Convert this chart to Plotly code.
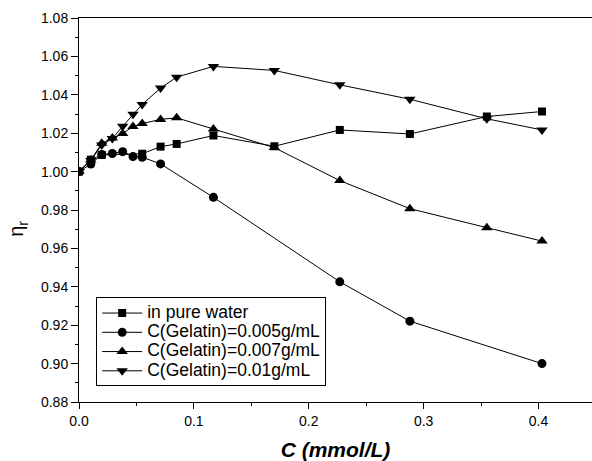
import plotly.graph_objects as go

# Concentration C (mmol/L) and relative viscosity values
c_water = [0.0, 0.0103, 0.0198, 0.055, 0.071, 0.085, 0.117, 0.170, 0.227, 0.288, 0.355, 0.403]
eta_water = [1.000, 1.0062, 1.0087, 1.0093, 1.0130, 1.0144, 1.0188, 1.0132, 1.0217, 1.0196, 1.0287, 1.0313]

c_g005 = [0.0, 0.0103, 0.0198, 0.029, 0.038, 0.047, 0.055, 0.071, 0.117, 0.227, 0.288, 0.403]
eta_g005 = [1.000, 1.0039, 1.0089, 1.0094, 1.0104, 1.0078, 1.0075, 1.0040, 0.9866, 0.9426, 0.9221, 0.9000]

c_g007 = [0.0, 0.0103, 0.0198, 0.029, 0.038, 0.047, 0.055, 0.071, 0.085, 0.117, 0.170, 0.227, 0.288, 0.355, 0.403]
eta_g007 = [1.000, 1.0060, 1.0148, 1.0175, 1.0198, 1.0235, 1.0250, 1.0272, 1.0280, 1.0222, 1.0125, 0.9953, 0.9807, 0.9708, 0.9638]

c_g01 = [0.0, 0.0103, 0.0198, 0.029, 0.038, 0.047, 0.055, 0.071, 0.085, 0.117, 0.170, 0.227, 0.288, 0.355, 0.403]
eta_g01 = [1.000, 1.0058, 1.0139, 1.0172, 1.0236, 1.0299, 1.0350, 1.0435, 1.0492, 1.0548, 1.0527, 1.0452, 1.0377, 1.0275, 1.0217]

series_names = ["in pure water", "C(Gelatin)=0.005g/mL", "C(Gelatin)=0.007g/mL", "C(Gelatin)=0.01g/mL"]
x_tickvals = [0.0, 0.1, 0.2, 0.3, 0.4]
x_ticktext = ["0.0", "0.1", "0.2", "0.3", "0.4"]
y_tickvals = [0.88, 0.90, 0.92, 0.94, 0.96, 0.98, 1.00, 1.02, 1.04, 1.06, 1.08]

W, H = 592, 461
L, R, T, B = 78.5, 0, 18.3, 59.3
FONT = "Liberation Sans, Arial, sans-serif"

fig = go.Figure()
data = [(c_water, eta_water, "square", 8),
        (c_g005, eta_g005, "circle", 9),
        (c_g007, eta_g007, "triangle-up", 10),
        (c_g01, eta_g01, "triangle-down", 10)]
for (cx, cy, sym, sz), name in zip(data, series_names):
    fig.add_trace(go.Scatter(
        x=cx, y=cy, mode="lines+markers",
        name='<span style="font-size:17.5px">' + name + '</span>',
        line=dict(color="black", width=1),
        marker=dict(symbol=sym, size=sz, color="black"),
    ))

axis_font = dict(family=FONT, size=14, color="black")
fig.update_layout(
    width=W, height=H,
    margin=dict(l=L, r=R, t=T, b=B, pad=0),
    paper_bgcolor="white", plot_bgcolor="white",
    font=dict(family=FONT, color="black"),
    showlegend=True,
    legend=dict(
        x=0.0335, y=0.2723, xanchor="left", yanchor="top",
        bgcolor="white", bordercolor="black", borderwidth=1,
        font=dict(family=FONT, size=12.5, color="black"),
        itemwidth=40, tracegroupgap=0,
    ),
    xaxis=dict(
        range=[0, (W - L) / 1150.0],
        showline=True, linecolor="black", linewidth=1, mirror=True,
        showgrid=False, zeroline=False,
        tickmode="array", tickvals=x_tickvals, ticktext=x_ticktext,
        ticks="outside", ticklen=6, tickwidth=1, tickcolor="black",
        tickfont=axis_font,
        minor=dict(dtick=0.05, tick0=0, ticks="outside", ticklen=3, tickcolor="black", showgrid=False),
        title=dict(text="<b><i>C (mmol/L)</i></b>", font=dict(family=FONT, size=21, color="black"), standoff=15),
    ),
    yaxis=dict(
        range=[0.88, 1.08],
        showline=True, linecolor="black", linewidth=1, mirror=False,
        showgrid=False, zeroline=False,
        tickmode="array", tickvals=y_tickvals, tickformat=".2f",
        ticks="outside", ticklen=7, tickwidth=1, tickcolor="black",
        tickfont=axis_font,
        minor=dict(dtick=0.01, tick0=0.88, ticks="outside", ticklen=3, tickcolor="black", showgrid=False),
    ),
)

fig.add_annotation(
    text="η<sub>r</sub>", textangle=-90, showarrow=False,
    xref="paper", yref="paper", x=-(L - 17) / (W - L), y=0.45,
    xanchor="center", yanchor="middle",
    font=dict(family=FONT, size=20, color="black"),
)

fig.write_html("out.html")
